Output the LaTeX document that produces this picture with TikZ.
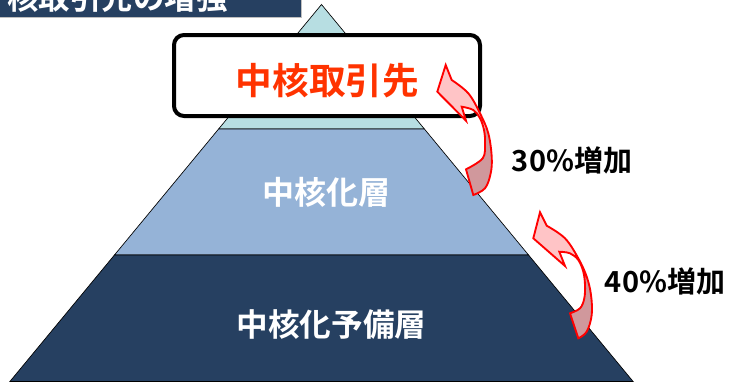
\documentclass[tikz,border=0pt]{standalone}
\usepackage{fontspec}
\newfontfamily\jpb{Noto Sans CJK JP Bold}
\usetikzlibrary{calc}
\definecolor{navy}{RGB}{38,64,97}
\definecolor{midblue}{RGB}{149,179,215}
\definecolor{aqua}{RGB}{183,222,226}
\definecolor{coretxt}{RGB}{255,51,0}
\definecolor{pinklt}{RGB}{255,196,198}
\definecolor{pinkdk}{RGB}{208,152,156}
\tikzset{
  layer/.style={draw=black, line width=0.5pt},
  lbl/.style={font=\jpb\fontsize{#1}{#1}\selectfont, inner sep=0pt},
  corebox/.style={draw=black, line width=3pt, rounded corners=7.5pt, fill=white,
    minimum width=229.5pt, minimum height=60.75pt, inner sep=0pt},
  arrowline/.style={draw=red, line width=1.4pt, line join=miter},
}
\def\arrowA{(445.7,65) -- (451.7,80) -- plot[smooth, tension=0.6] coordinates {(451.7,80) (468.3,93.3) (480,113.3) (488.3,133.3) (491.7,156.7) (490.7,173.3) (485,188.3) (473.3,195)} -- (466,169.3) -- plot[smooth, tension=0.6] coordinates {(466,169.3) (482.7,158.3) (485,143.3) (484,130) (480,118.3) (473.3,110) (461.7,106.7)} -- (466,120.7) -- (437.3,91.7) -- cycle}
\def\arrowB{(540,212.3) -- (546.7,225.7) -- plot[smooth, tension=0.6] coordinates {(546.7,225.7) (565,238.3) (578.3,258.3) (586.7,276.7) (591,295) (591.7,315) (586.7,331.7) (578.3,338.3)} -- (570,313.3) -- plot[smooth, tension=0.6] coordinates {(570,313.3) (580,308.3) (584.3,298.3) (585,285) (583.3,271.7) (578.3,260) (570,253.3) (559.3,251.7)} -- (565,266) -- (533.3,238.3) -- cycle}
\begin{document}
\begin{tikzpicture}[x=0.75pt,y=-0.75pt]
\useasboundingbox (0,0) rectangle (729,383);
\clip (0,0) rectangle (729,383);
% pyramid
\coordinate (apex) at (321.5,4.5);
\coordinate (bl) at (9.9,381.5);
\coordinate (br) at (633.1,381.5);
\coordinate (l1) at ($(apex)!0.3302!(bl)$);
\coordinate (r1) at ($(apex)!0.3302!(br)$);
\coordinate (l2) at ($(apex)!0.6645!(bl)$);
\coordinate (r2) at ($(apex)!0.6645!(br)$);
\draw[layer, fill=aqua] (apex) -- (r1) -- (l1) -- cycle;
\draw[layer, fill=midblue] (l1) -- (r1) -- (r2) -- (l2) -- cycle;
\draw[layer, fill=navy] (l2) -- (r2) -- (br) -- (bl) -- cycle;
% title band (cropped)
\draw[fill=navy, draw=black!25, line width=0.5pt] (-5,-5) rectangle (301,17.5);
\node[lbl=23.6pt, text=white, anchor=south west] (title) at (7,12.7) {核取引先の増強};
% core box
\node[corebox] (core) at (327,75.5) {};
\node[lbl=27.5pt, text=coretxt] (coretext) at (327.5,81) {中核取引先};
\node[lbl=24pt, text=white] (mid) at (326,192.5) {中核化層};
\node[lbl=23.7pt, text=white] (bot) at (331.5,325) {中核化予備層};
% curved arrows
\fill[pinklt] \arrowA;
\begin{scope}\clip (0,128) rectangle (729,383); \fill[pinkdk] \arrowA; \end{scope}
\path[arrowline] \arrowA;
\fill[pinklt] \arrowB;
\begin{scope}\clip (0,271) rectangle (729,383); \fill[pinkdk] \arrowB; \end{scope}
\path[arrowline] \arrowB;
% labels
\node[lbl=21.75pt] (inc30) at (572,160.3) {30\%増加};
\node[lbl=21.75pt] (inc40) at (665,281) {40\%増加};
\end{tikzpicture}
\end{document}
